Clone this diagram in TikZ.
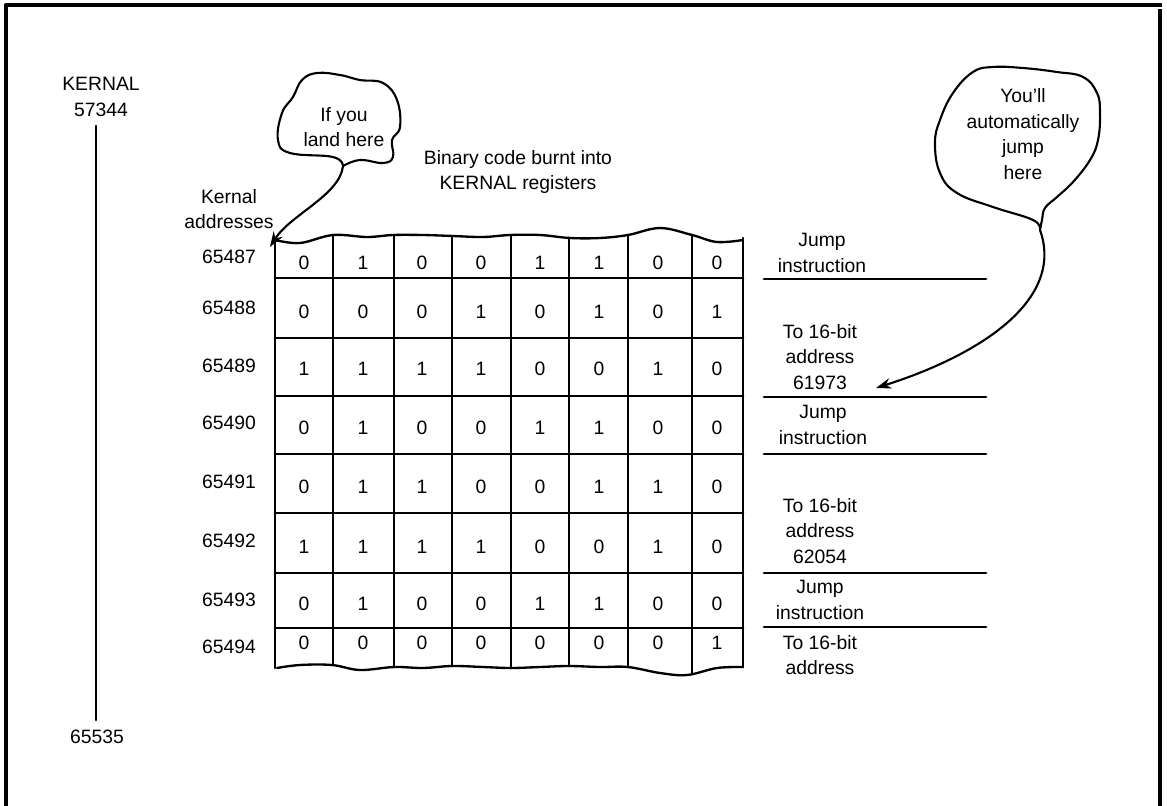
\documentclass[tikz,border=0pt]{standalone}
\usepackage{fontspec}
\setmainfont{Liberation Sans}
\usetikzlibrary{arrows.meta}

\begin{document}
\begin{tikzpicture}[x=0.03cm,y=-0.03cm,line join=round,line cap=round,
  every node/.style={font=\fontsize{16.5}{22}\selectfont,align=center,inner sep=0pt},
  rule/.style={line width=2.4pt},
  wave/.style={line width=2pt},
  cloud/.style={line width=1.8pt},
  tail/.style={line width=1.8pt,-{Stealth[length=13pt,width=9pt]}}]
\useasboundingbox (0,0) rectangle (1167,806);
% frame
\draw[line width=3.4pt,line cap=butt] (6,806) -- (6,5) -- (1162,5);
\draw[line width=3.4pt,line cap=butt] (1160,9) -- (1160,806);

% memory map bar
\node (kernal) at (101,97) {KERNAL\\57344};
\node (last) at (97,737) {65535};
\coordinate (barTop) at (96,126);
\coordinate (barEnd) at (96,720);
\draw[rule] (barTop) -- (barEnd);

% headings
\node (addr) at (229,209) {Kernal\\addresses};
\node (burnt) at (518,172) {Binary code burnt into\\KERNAL registers};

% addresses
\foreach \a/\y in {65487/257,65488/308,65489/366,65490/423,
                   65491/482,65492/541,65493/600,65494/647}
  \node (a\a) at (229,\y) {\a};

% register bits
\foreach \y/\bits [count=\r] in {263/{0,1,0,0,1,1,0,0},312/{0,0,0,1,0,1,0,1},
    369/{1,1,1,1,0,0,1,0},428/{0,1,0,0,1,1,0,0},487/{0,1,1,0,0,1,1,0},
    547/{1,1,1,1,0,0,1,0},604/{0,1,0,0,1,1,0,0},643/{0,0,0,0,0,0,0,1}}
  \foreach \b [count=\c] in \bits
    \node (b\r\c) at (245+59*\c,\y) {\b};

% grid
\foreach \y in {278,338,396,454,513,573,628}
  \draw[rule] (275,\y) -- (743,\y);
\foreach \x/\t/\e in {275/240/668,333/235/665,394/235/667,452/236/666,
                      511/235/668,569/238/666,628/235/667,692/235/674,743/238/667}
  \draw[rule] (\x,\t) -- (\x,\e);
% torn edges
\draw[wave] plot[smooth,tension=0.6] coordinates {(275,240) (300,243) (333,235)
  (367,237) (393,235) (423,235) (453,236) (483,237) (510,235) (540,235)
  (570,238) (600,238) (628,235) (660,228) (692,235) (717,242) (743,240)};
\draw[wave] plot[smooth,tension=0.6] coordinates {(277,668) (300,665) (332,665)
  (360,670) (394,667) (423,668) (452,666) (483,667) (511,668) (540,667)
  (569,666) (600,667) (628,667) (660,673) (687,675) (717,668) (743,667)};

% what the bytes mean
\foreach \y in {279,397,454,573,627}
  \draw[rule] (764,\y) -- (986,\y);
\node (jmpA) at (822,253) {Jump\\instruction};
\node (toA) at (820,357) {To 16-bit\\address\\61973};
\node (jmpB) at (823,425) {Jump\\instruction};
\node (toB) at (820,531) {To 16-bit\\address\\62054};
\node (jmpC) at (820,600) {Jump\\instruction};
\node (toC) at (820,655) {To 16-bit\\address};

% speech bubbles
\node (land) at (344,127) {If you\\land here};
\draw[cloud] plot[smooth,tension=0.7] coordinates {(343,166) (333,157) (290,153)
  (278,140) (282,113) (293,97) (302,80) (317,73) (340,75) (360,80) (383,83)
  (397,100) (400,127) (392,140) (393,157) (383,163) (360,160) (343,166)};
\coordinate (landTail) at (343,166);
\coordinate (landTip) at (270,247);
\draw[tail] (landTail) .. controls (340,195) and (290,215) .. (landTip);

\node (jump) at (1023,134) {You'll\\automatically\\jump\\here};
\draw[cloud] plot[smooth,tension=0.7] coordinates {(1040,230) (1033,220)
  (993,207) (957,193) (940,173) (935,143) (940,120) (953,93) (973,72)
  (993,67) (1023,68) (1057,72) (1083,77) (1097,93) (1100,113) (1098,140)
  (1090,160) (1073,182) (1057,197) (1045,208) (1042,220) (1040,230)};
\coordinate (jumpTail) at (1040,230);
\coordinate (jumpTip) at (876,388);
\draw[tail] (jumpTail) .. controls (1065,300) and (980,355) .. (jumpTip);
\end{tikzpicture}
\end{document}
